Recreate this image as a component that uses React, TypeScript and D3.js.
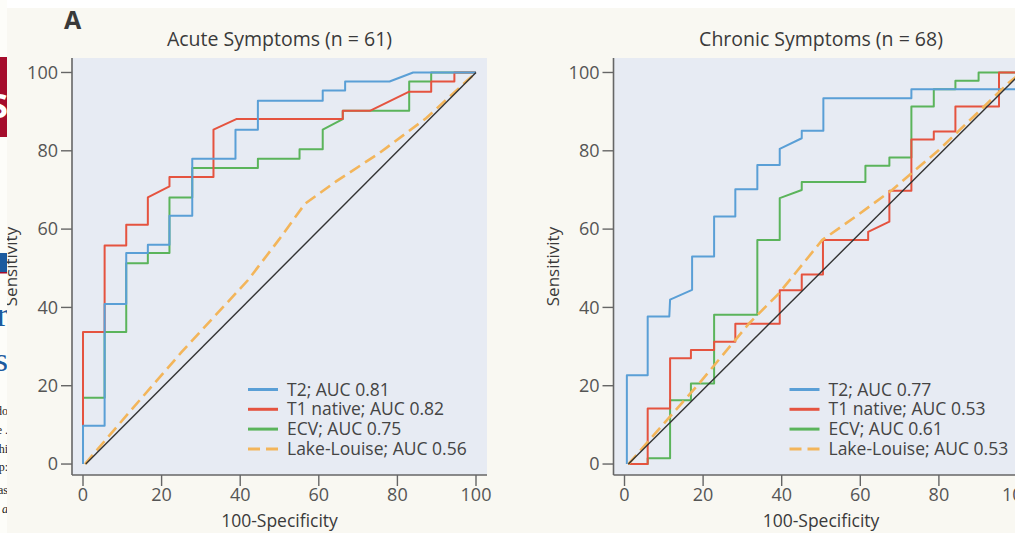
import React from 'react';
import * as d3 from 'd3';

type Pt = [number, number];

// values (x = 100-specificity, y = sensitivity)
const tickValues = [0, 20, 40, 60, 80, 100];

const acuteT2: Pt[] = [
  [0, 0], [0, 9.8], [5.5, 9.8], [5.5, 40.9], [11, 40.9], [11, 53.9], [16.5, 53.9], [16.5, 56],
  [22, 56], [22, 63.4], [27.8, 63.4], [27.8, 78], [38.8, 78], [38.8, 85.4], [44.5, 85.4],
  [44.5, 92.8], [61, 92.8], [61, 95.4], [66.7, 95.4], [66.7, 97.7], [78, 97.7], [84, 100], [100, 100],
];
const acuteT1: Pt[] = [
  [0, 0], [0, 33.7], [5.5, 33.7], [5.5, 55.8], [11, 55.8], [11, 61.1], [16.5, 61.1], [16.5, 68.1],
  [22, 70.9], [22, 73.3], [33.2, 73.3], [33.2, 85.4], [39, 88.1], [66.1, 88.1], [66.1, 90.2],
  [73, 90.2], [83, 95.1], [88.6, 95.1], [88.6, 97.7], [94.5, 97.7], [94.5, 100], [100, 100],
];
const acuteEcv: Pt[] = [
  [0, 0], [0, 16.9], [5.5, 16.9], [5.5, 33.7], [11, 33.7], [11, 51.3], [16.5, 51.3], [16.5, 53.9],
  [22, 53.9], [22, 68.1], [27.8, 68.1], [27.8, 75.6], [44.5, 75.6], [44.5, 78], [55.1, 78],
  [55.1, 80.4], [61, 80.4], [61, 85.4], [66.1, 88.1], [66.1, 90.2], [83, 90.2], [83, 97.7],
  [88.6, 97.7], [88.6, 100], [100, 100],
];
const acuteLake: Pt[] = [
  [0.5, 0], [12, 13.5], [25, 28.5], [42, 47], [50, 57.5], [56.5, 66.5], [64.4, 72.2],
  [75.4, 79.4], [87.3, 88.3], [100, 100],
];
const acuteRef: Pt[] = [[0.7, 0], [100, 100]];

const chronicT2: Pt[] = [
  [0.6, 0], [0.6, 22.7], [5.9, 22.7], [5.9, 37.7], [11.4, 37.7], [11.6, 42], [17.2, 44.5],
  [17.2, 53], [22.8, 53], [22.8, 63.2], [28.2, 63.2], [28.2, 70.2], [33.8, 70.2], [33.8, 76.4],
  [39.5, 76.4], [39.5, 80.5], [45.1, 83.2], [45.1, 85.1], [50.6, 85.1], [50.6, 93.4], [73, 93.4],
  [73, 95.7], [101, 95.7], [101, 100],
];
const chronicT1: Pt[] = [
  [1, 0], [5.9, 0], [5.9, 14.2], [11.6, 14.2], [11.6, 27], [16.9, 27], [16.9, 29.1], [22.8, 29.1],
  [22.8, 31.2], [28.2, 31.2], [28.2, 35.8], [39.5, 35.8], [39.5, 44.4], [45.1, 44.4], [45.1, 48.4],
  [50.5, 48.4], [50.5, 57.2], [62, 57.2], [62, 59.3], [67.4, 61.9], [67.4, 69.8], [73, 69.8],
  [73, 82.9], [78.7, 82.9], [78.7, 84.9], [84.2, 84.9], [84.2, 91.3], [95.3, 91.3], [95.3, 100],
  [101, 100],
];
const chronicEcv: Pt[] = [
  [1, 0], [5.9, 0], [5.9, 1.5], [11.6, 1.5], [11.6, 16.3], [16.9, 16.3], [16.9, 20.6], [22.8, 20.6],
  [22.8, 38.1], [33.8, 38.1], [33.8, 57.2], [39.5, 57.2], [39.5, 67.9], [45.1, 70], [45.1, 72],
  [61.3, 72], [61.3, 76.2], [67.4, 76.2], [67.4, 78.3], [73, 78.3], [73, 91.3], [78.7, 91.3],
  [78.7, 95.7], [84.2, 95.7], [84.2, 97.9], [90.1, 97.9], [90.1, 100], [101, 100],
];
const chronicLake: Pt[] = [
  [1, 0], [19, 20.6], [31.7, 35.9], [39.3, 43.6], [50.3, 57.2], [58.8, 63.2], [68.1, 70],
  [74, 75.1], [80, 80.2], [97.7, 97.3], [101, 100],
];
const chronicRef: Pt[] = [[1, 0], [101, 100]];

const acuteLegend = ['T2; AUC 0.81', 'T1 native; AUC 0.82', 'ECV; AUC 0.75', 'Lake-Louise; AUC 0.56'];
const chronicLegend = ['T2; AUC 0.77', 'T1 native; AUC 0.53', 'ECV; AUC 0.61', 'Lake-Louise; AUC 0.53'];

const colors = ['#5a9fd6', '#e5533f', '#5bb45b', '#f3b55a'];
const FONT = '"Open Sans", "Noto Sans", sans-serif';

const W = 1015, H = 533;
const plotTop = 58, plotBottom = 475, plotW = 415;

function Panel({ left, title, curves, lake, diag, legend, id }:
  { left: number; title: string; curves: Pt[][]; lake: Pt[]; diag: Pt[]; legend: string[]; id: string }) {
  const x = d3.scaleLinear().domain([-2.8, 102.8]).range([left, left + plotW]);
  const y = d3.scaleLinear().domain([-2.8, 103.7]).range([plotBottom, plotTop]);
  const line = d3.line<Pt>().x(d => x(d[0])).y(d => y(d[1]));
  const cx = left + plotW / 2;
  const legX = left + 176, legY = 389.5, legStep = 19.8;

  return (
    <g>
      <defs>
        <clipPath id={id}>
          <rect x={left} y={plotTop} width={plotW} height={plotBottom - plotTop} />
        </clipPath>
      </defs>
      <rect x={left} y={plotTop} width={plotW} height={plotBottom - plotTop} fill="#e7ebf3" />
      <text x={cx} y={46} textAnchor="middle" fontSize={19.5} fill="#3a3a3a" fontFamily={FONT}>{title}</text>

      <g clipPath={`url(#${id})`} fill="none">
        {[curves[2], curves[1], curves[0]].map((c, i) => (
          <path key={i} d={line(c) || ''} stroke={colors[2 - i]} strokeWidth={2} strokeLinejoin="round" />
        ))}
        <path d={line(lake) || ''} stroke={colors[3]} strokeWidth={2.6} strokeDasharray="12 6" />
        <path d={line(diag) || ''} stroke="#333" strokeWidth={1.4} />
      </g>

      {/* axes */}
      <line x1={left} x2={left} y1={plotTop} y2={plotBottom} stroke="#666" strokeWidth={1.6} />
      <line x1={left} x2={left + plotW} y1={plotBottom} y2={plotBottom} stroke="#666" strokeWidth={1.6} />
      {tickValues.map(t => (
        <g key={'y' + t}>
          <line x1={left - 11} x2={left} y1={y(t)} y2={y(t)} stroke="#666" strokeWidth={1.4} />
          <text x={left - 14} y={y(t)} dy="0.35em" textAnchor="end" fontSize={18} fill="#555" fontFamily={FONT}>{t}</text>
        </g>
      ))}
      {tickValues.map(t => (
        <g key={'x' + t}>
          <line x1={x(t)} x2={x(t)} y1={plotBottom} y2={plotBottom + 11} stroke="#666" strokeWidth={1.4} />
          <text x={x(t)} y={495} dy="0.35em" textAnchor="middle" fontSize={18} fill="#555" fontFamily={FONT}>{t}</text>
        </g>
      ))}
      <text x={cx} y={527} textAnchor="middle" fontSize={17.5} fill="#3a3a3a" fontFamily={FONT}>100-Specificity</text>
      <text transform={`translate(${left - 55},${(plotTop + plotBottom) / 2}) rotate(-90)`} textAnchor="middle"
        fontSize={17} fill="#3a3a3a" fontFamily={FONT}>Sensitivity</text>

      {/* legend */}
      {legend.map((l, i) => (
        <g key={l}>
          <line x1={legX} x2={legX + 30} y1={legY + i * legStep} y2={legY + i * legStep} stroke={colors[i]}
            strokeWidth={3} strokeDasharray={i === 3 ? '12 6' : undefined} />
          <text x={legX + 39} y={legY + i * legStep} dy="0.35em" fontSize={17.5} fill="#444" fontFamily={FONT}>{l}</text>
        </g>
      ))}
    </g>
  );
}

// clipped fragments of the neighbouring page at the left edge
const edgeSerif = [
  { t: 'do', y: 415 }, { t: 'e .', y: 434 }, { t: 'hi', y: 453 }, { t: 'p:', y: 471 }, { t: 'as', y: 494 }, { t: 'a', y: 513 },
];

function LeftEdge() {
  return (
    <g>
      <defs>
        <clipPath id="edge"><rect x={0} y={0} width={7} height={H} /></clipPath>
      </defs>
      <rect x={0} y={0} width={7} height={H} fill="#fdfdf9" />
      <g clipPath="url(#edge)">
        <rect x={0} y={57} width={7} height={80} fill="#a50d2c" />
        <text x={8} y={118} textAnchor="end" fontSize={34} fontWeight="bold" fill="#fff" fontFamily={FONT}>S</text>
        <rect x={0} y={253} width={7} height={19} fill="#1c5b9f" />
        <rect x={0} y={272} width={7} height={1.5} fill="#a50d2c" />
        <text x={8} y={326} textAnchor="end" fontSize={34} fill="#1c5b9f" fontFamily="'Liberation Serif', serif">r</text>
        <text x={8} y={371} textAnchor="end" fontSize={34} fill="#1c5b9f" fontFamily="'Liberation Serif', serif">s</text>
        {edgeSerif.map((e, i) => (
          <text key={i} x={8} y={e.y} textAnchor="end" fontSize={12} fill="#222"
            fontStyle={i === 5 ? 'italic' : 'normal'} fontFamily="'Liberation Serif', serif">{e.t}</text>
        ))}
      </g>
    </g>
  );
}

export default function App() {
  return (
    <div style={{ position: 'absolute', left: 0, top: 0 }}>
      <svg width={W} height={H} style={{ display: 'block' }}>
        <rect x={0} y={0} width={W} height={H} fill="#f9f8f2" />
        <rect x={0} y={0} width={W} height={8} fill="#ffffff" />
        <text x={64} y={29} fontSize={25} fontWeight="bold" fill="#3a3a3a" fontFamily={FONT}>A</text>
        <Panel id="acute" left={72} title="Acute Symptoms (n = 61)"
          curves={[acuteT2, acuteT1, acuteEcv]} lake={acuteLake} diag={acuteRef} legend={acuteLegend} />
        <Panel id="chronic" left={613.5} title="Chronic Symptoms (n = 68)"
          curves={[chronicT2, chronicT1, chronicEcv]} lake={chronicLake} diag={chronicRef} legend={chronicLegend} />
        <LeftEdge />
      </svg>
    </div>
  );
}
